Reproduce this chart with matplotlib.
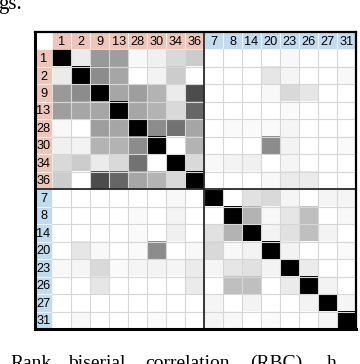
import matplotlib
matplotlib.use("Agg")
import matplotlib.pyplot as plt
from matplotlib.colors import LinearSegmentedColormap
from matplotlib.patches import Rectangle
import numpy as np

# channel labels, first group (salmon) then second group (blue)
LABELS = ["1", "2", "9", "13", "28", "30", "34", "36",
          "7", "8", "14", "20", "23", "26", "27", "31"]
N_GROUP_A = 8

# pairwise values (0 = white, 1 = black)
ROW_1 = [1, .08, .40, .38, .03, .06, .15, .20, 0, 0, 0, 0, .03, 0, 0, 0]
ROW_2 = [.08, 1, .45, .35, 0, .05, .20, 0, 0, 0, 0, .10, .04, 0, 0, .03]
ROW_9 = [.40, .45, 1, .35, .38, .30, .08, .70, 0, 0, 0, .03, .15, .10, 0, 0]
ROW_13 = [.38, .35, .35, 1, .35, .30, .15, .60, 0, 0, 0, 0, .02, 0, 0, 0]
ROW_28 = [.03, 0, .38, .35, 1, .45, .55, .35, 0, .02, .02, .02, .04, 0, 0, 0]
ROW_30 = [.06, .05, .30, .30, .45, 1, 0, .30, 0, 0, 0, .45, .05, 0, 0, .02]
ROW_34 = [.15, .20, .08, .15, .55, 0, 1, .15, .03, .05, .06, 0, .04, 0, 0, 0]
ROW_36 = [.20, 0, .70, .60, .35, .30, .15, 1, 0, 0, 0, .03, .08, .08, 0, 0]
ROW_7 = [0, 0, 0, 0, 0, 0, .03, 0, 1, 0, .12, .15, .04, 0, .04, .04]
ROW_8 = [0, 0, 0, 0, .02, 0, .05, 0, 0, 1, .30, .03, .10, .25, 0, .03]
ROW_14 = [0, 0, 0, 0, .02, 0, .06, 0, .12, .30, 1, .05, .12, .25, .05, 0]
ROW_20 = [0, .10, .03, 0, .02, .45, 0, .03, .15, .03, .05, 1, .05, 0, 0, .02]
ROW_23 = [.03, .04, .15, .02, .04, .05, .04, .08, .04, .10, .12, .05, 1, .08, 0, 0]
ROW_26 = [0, 0, .10, 0, 0, 0, 0, .08, 0, .25, .25, 0, .08, 1, .05, 0]
ROW_27 = [0, 0, 0, 0, 0, 0, 0, 0, .04, 0, .05, 0, 0, .05, 1, .04]
ROW_31 = [0, .03, 0, 0, 0, .02, 0, 0, .04, .03, 0, .02, 0, 0, .04, 1]

ROWS = [ROW_1, ROW_2, ROW_9, ROW_13, ROW_28, ROW_30, ROW_34, ROW_36,
        ROW_7, ROW_8, ROW_14, ROW_20, ROW_23, ROW_26, ROW_27, ROW_31]

SALMON = "#edc6b9"
BLUE = "#c2dcef"
HDR_W = 0.9   # header column width, in cell units

W, H = 360, 364
fig = plt.figure(figsize=(W / 100, H / 100), dpi=100)
left, right, top, bottom = 35, 356, 32, 329
ax = fig.add_axes([left / W, 1 - bottom / H, (right - left) / W, (bottom - top) / H])

n = len(LABELS)
mat = np.array(ROWS, dtype=float)
cmap = LinearSegmentedColormap.from_list("wk", ["white", "black"])
ax.imshow(mat, cmap=cmap, vmin=0, vmax=1, extent=(0, n, n, 0),
          aspect="auto", interpolation="nearest", zorder=1)

# light cell grid
for k in range(1, n):
    ax.plot([k, k], [0, n], color="#d6d6d6", lw=0.8, zorder=2)
    ax.plot([0, n], [k, k], color="#d6d6d6", lw=0.8, zorder=2)

# header cells
for i, lab in enumerate(LABELS):
    c = SALMON if i < N_GROUP_A else BLUE
    ax.add_patch(Rectangle((i, -1), 1, 1, facecolor=c, edgecolor="white",
                           lw=0.4, zorder=1))
    ax.add_patch(Rectangle((-HDR_W, i), HDR_W, 1, facecolor=c, edgecolor="white",
                           lw=0.4, zorder=1))
    ax.text(i + 0.5, -0.45, lab, ha="center", va="center", fontsize=9.2,
            family="Liberation Sans", zorder=3)
    ax.text(-HDR_W / 2, i + 0.55, lab, ha="center", va="center", fontsize=9.2,
            family="Liberation Sans", zorder=3)

# group dividers
ax.plot([N_GROUP_A, N_GROUP_A], [-1, n], color="#2a2a2a", lw=1.3, zorder=4)
ax.plot([-HDR_W, n], [N_GROUP_A, N_GROUP_A], color="#2a2a2a", lw=1.3, zorder=4)

ax.set_xlim(-HDR_W, n)
ax.set_ylim(n, -1)
ax.set_xticks([])
ax.set_yticks([])
for side, sp in ax.spines.items():
    sp.set_color("black")
    sp.set_linewidth(2.2 if side in ("left", "bottom") else 1.6)
    sp.set_zorder(5)

# bits of surrounding page text, cut by the crop
fig.text(-2 / W, 1 - 9 / H, "gs.", family="Liberation Serif", fontsize=15,
         ha="left", va="baseline")
words = [("Rank", 10), ("biserial", 68), ("correlation", 145), ("(RBC)", 250), ("h", 327)]
for w, x in words:
    fig.text(x / W, 1 - 355 / H, w, family="Liberation Serif", fontsize=14,
             ha="left", va="top")

fig.savefig("out.png", dpi=100)
